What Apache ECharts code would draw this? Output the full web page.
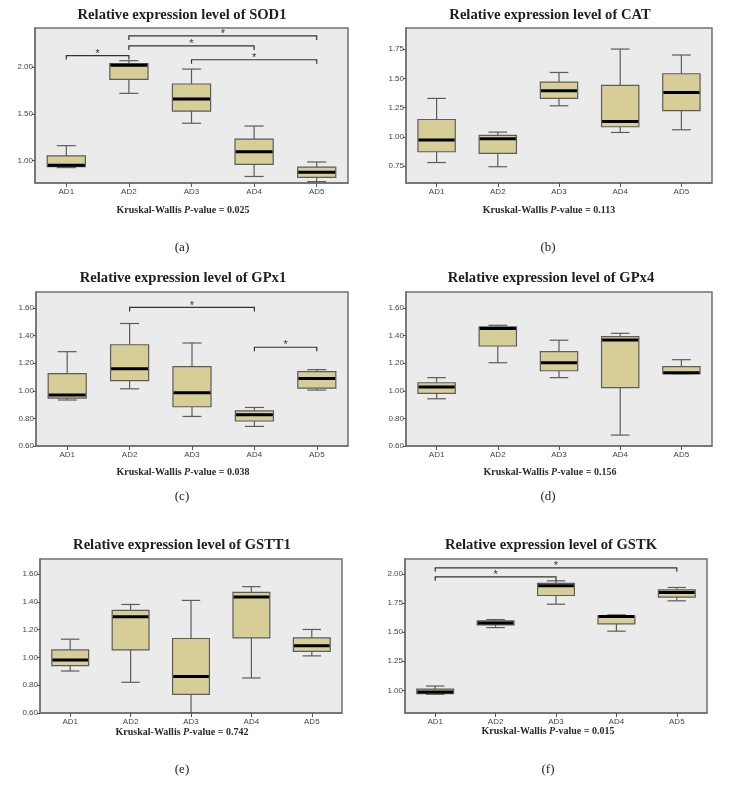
<!DOCTYPE html>
<html>
<head>
<meta charset="utf-8">
<script src="https://cdn.jsdelivr.net/npm/echarts@6/dist/echarts.min.js"></script>
<style>html,body{margin:0;padding:0;background:#fff}#c{width:731px;height:796px}</style>
</head>
<body>
<div id="c"></div>
<script>
// ---------- data ----------
const categories = ['AD1', 'AD2', 'AD3', 'AD4', 'AD5'];
// each box: [min, Q1, median, Q3, max]
const sod1 = [[0.925, 0.935, 0.95, 1.05, 1.16], [1.72, 1.87, 2.02, 2.04, 2.07], [1.40, 1.53, 1.66, 1.82, 1.98], [0.83, 0.96, 1.095, 1.23, 1.37], [0.775, 0.82, 0.875, 0.93, 0.985]];
const cat = [[0.78, 0.872, 0.972, 1.148, 1.328], [0.744, 0.858, 0.983, 1.012, 1.04], [1.265, 1.328, 1.394, 1.468, 1.55], [1.037, 1.086, 1.131, 1.44, 1.75], [1.06, 1.223, 1.379, 1.539, 1.699]];
const gpx1 = [[0.933, 0.947, 0.969, 1.124, 1.283], [1.014, 1.074, 1.16, 1.333, 1.487], [0.814, 0.884, 0.985, 1.175, 1.346], [0.742, 0.781, 0.827, 0.855, 0.879], [1.005, 1.019, 1.088, 1.139, 1.153]];
const gpx4 = [[0.942, 0.981, 1.027, 1.058, 1.095], [1.203, 1.324, 1.45, 1.462, 1.474], [1.095, 1.145, 1.203, 1.283, 1.366], [0.679, 1.022, 1.368, 1.392, 1.416], [1.124, 1.124, 1.131, 1.174, 1.225]];
const gstt1 = [[0.902, 0.941, 0.982, 1.054, 1.131], [0.821, 1.054, 1.292, 1.338, 1.381], [0.60, 0.734, 0.862, 1.136, 1.41], [0.852, 1.14, 1.434, 1.468, 1.509], [1.011, 1.044, 1.083, 1.14, 1.201]];
const gstk = [[0.966, 0.972, 0.985, 1.011, 1.037], [1.54, 1.563, 1.58, 1.597, 1.609], [1.741, 1.816, 1.90, 1.92, 1.942], [1.509, 1.572, 1.635, 1.64, 1.649], [1.77, 1.802, 1.842, 1.865, 1.885]];
// significance brackets: [fromCategoryIndex, toCategoryIndex, height]
const sod1Sig = [[0, 1, 2.125], [1, 4, 2.335], [1, 3, 2.228], [2, 4, 2.08]];
const gpx1Sig = [[1, 3, 1.603], [3, 4, 1.315]];
const gstkSig = [[0, 4, 2.054], [0, 2, 1.977]];
// tick labels
const ticksA = [1.00, 1.50, 2.00];
const ticksB = [0.75, 1.00, 1.25, 1.50, 1.75];
const ticksCDE = [0.60, 0.80, 1.00, 1.20, 1.40, 1.60];
const ticksF = [1.00, 1.25, 1.50, 1.75, 2.00];
const genes = ['SOD1', 'CAT', 'GPx1', 'GPx4', 'GSTT1', 'GSTK'];
const pValues = ['0.025', '0.113', '0.038', '0.156', '0.742', '0.015'];
const panelLabels = ['(a)', '(b)', '(c)', '(d)', '(e)', '(f)'];

// ---------- layout ----------
const panels = [
  { box: sod1, sig: sod1Sig, ticks: ticksA, min: 0.76, max: 2.42, grid: { left: 35, top: 28, width: 313, height: 155 }, title: [182, 15], kw: [183, 210], lab: [182, 248] },
  { box: cat, sig: [], ticks: ticksB, min: 0.605, max: 1.93, grid: { left: 406, top: 28, width: 306, height: 155 }, title: [550, 15], kw: [549, 210], lab: [548, 248] },
  { box: gpx1, sig: gpx1Sig, ticks: ticksCDE, min: 0.60, max: 1.715, grid: { left: 36, top: 292, width: 312, height: 154 }, title: [183, 278], kw: [183, 472.5], lab: [182, 497] },
  { box: gpx4, sig: [], ticks: ticksCDE, min: 0.60, max: 1.715, grid: { left: 406, top: 292, width: 306, height: 154 }, title: [551, 278], kw: [550, 472], lab: [548, 497] },
  { box: gstt1, sig: [], ticks: ticksCDE, min: 0.60, max: 1.708, grid: { left: 40, top: 559, width: 302, height: 154 }, title: [182, 545], kw: [182, 732], lab: [182, 770] },
  { box: gstk, sig: gstkSig, ticks: ticksF, min: 0.805, max: 2.13, grid: { left: 405, top: 559, width: 302, height: 154 }, title: [551, 545], kw: [548, 731], lab: [548, 770] }
];

const FRAME = '#707070';
const BOXLINE = '#5c5c5c';
const BOXFILL = '#d7ce97';

function renderBox(params, api) {
  const x = api.value(0);
  const pMin = api.coord([x, api.value(1)]);
  const pQ1 = api.coord([x, api.value(2)]);
  const pMed = api.coord([x, api.value(3)]);
  const pQ3 = api.coord([x, api.value(4)]);
  const pMax = api.coord([x, api.value(5)]);
  const cx = pMin[0];
  const bw = api.size([1, 0])[0] * 0.61;
  const h = bw / 2, c = bw / 4;
  const ls = { stroke: BOXLINE, lineWidth: 1.2 };
  return {
    type: 'group',
    children: [
      { type: 'line', shape: { x1: cx, y1: pMax[1], x2: cx, y2: pQ3[1] }, style: ls },
      { type: 'line', shape: { x1: cx, y1: pQ1[1], x2: cx, y2: pMin[1] }, style: ls },
      { type: 'line', shape: { x1: cx - c, y1: pMax[1], x2: cx + c, y2: pMax[1] }, style: ls },
      { type: 'line', shape: { x1: cx - c, y1: pMin[1], x2: cx + c, y2: pMin[1] }, style: ls },
      { type: 'rect', shape: { x: cx - h, y: pQ3[1], width: bw, height: pQ1[1] - pQ3[1] }, style: { fill: BOXFILL, stroke: BOXLINE, lineWidth: 1.2 } },
      { type: 'line', shape: { x1: cx - h + 0.6, y1: pMed[1], x2: cx + h - 0.6, y2: pMed[1] }, style: { stroke: '#000', lineWidth: 3 } }
    ]
  };
}

function renderSig(params, api) {
  const p1 = api.coord([api.value(0), api.value(2)]);
  const p2 = api.coord([api.value(1), api.value(2)]);
  return {
    type: 'group',
    children: [
      { type: 'polyline', shape: { points: [[p1[0], p1[1] + 4], [p1[0], p1[1]], [p2[0], p2[1]], [p2[0], p2[1] + 4]] }, style: { stroke: '#333', lineWidth: 1.2, fill: null } },
      { type: 'text', x: (p1[0] + p2[0]) / 2, y: p1[1] - 2, style: { text: '*', fontSize: 11, fontFamily: 'Liberation Sans', fill: '#333', textAlign: 'center', textVerticalAlign: 'middle' } }
    ]
  };
}

const grid = [], xAxis = [], yAxis = [], series = [], graphic = [];
panels.forEach((p, i) => {
  grid.push(Object.assign({ show: true, backgroundColor: '#ebebeb', borderColor: FRAME, borderWidth: 1.5 }, p.grid));
  xAxis.push({
    gridIndex: i, type: 'category', data: categories, boundaryGap: true,
    axisLine: { show: true, lineStyle: { color: FRAME, width: 1.5 } },
    axisTick: { show: true, alignWithLabel: true, length: 4, lineStyle: { color: '#555' } },
    axisLabel: { fontSize: 8, color: '#444', margin: 5, fontFamily: 'Liberation Sans' },
    splitLine: { show: false }
  });
  yAxis.push({
    gridIndex: i, type: 'value', min: p.min, max: p.max,
    axisLine: { show: true, lineStyle: { color: FRAME, width: 1.5 } },
    axisTick: { show: true, length: 3, customValues: p.ticks, lineStyle: { color: '#555' } },
    axisLabel: { customValues: p.ticks, formatter: v => Number(v).toFixed(2), fontSize: 8, color: '#444', margin: 2, fontFamily: 'Liberation Sans' },
    splitLine: { show: false }
  });
  series.push({
    type: 'custom', name: genes[i], xAxisIndex: i, yAxisIndex: i, clip: true,
    data: p.box.map((b, k) => [k].concat(b)),
    encode: { x: 0, y: [1, 2, 3, 4, 5] },
    renderItem: renderBox, silent: true
  });
  if (p.sig.length) {
    series.push({
      type: 'custom', name: genes[i] + ' significance', xAxisIndex: i, yAxisIndex: i,
      data: p.sig, encode: { x: [0, 1], y: 2 }, renderItem: renderSig, silent: true
    });
  }
  graphic.push({
    type: 'text', x: p.title[0], y: p.title[1],
    style: { text: 'Relative expression level of ' + genes[i], fontSize: 14.6, fontWeight: 'bold', fontFamily: 'Liberation Serif', fill: '#1e1e1e', textAlign: 'center', textVerticalAlign: 'middle' }
  });
  graphic.push({
    type: 'text', x: p.kw[0], y: p.kw[1],
    style: {
      text: '{n|Kruskal-Wallis }{i|P}{n|-value = ' + pValues[i] + '}',
      textAlign: 'center', textVerticalAlign: 'middle',
      rich: {
        n: { fontSize: 10, fontWeight: 'bold', fontFamily: 'Liberation Serif', fill: '#2a2a2a' },
        i: { fontSize: 10, fontWeight: 'bold', fontStyle: 'italic', fontFamily: 'Liberation Serif', fill: '#2a2a2a' }
      }
    }
  });
  graphic.push({
    type: 'text', x: p.lab[0], y: p.lab[1],
    style: { text: panelLabels[i], fontSize: 13, fontFamily: 'Liberation Serif', fill: '#222', textAlign: 'center', textVerticalAlign: 'middle' }
  });
});

const chart = echarts.init(document.getElementById('c'), null, { renderer: 'canvas' });
chart.setOption({ animation: false, backgroundColor: '#fff', grid, xAxis, yAxis, series, graphic });
</script>
</body>
</html>
